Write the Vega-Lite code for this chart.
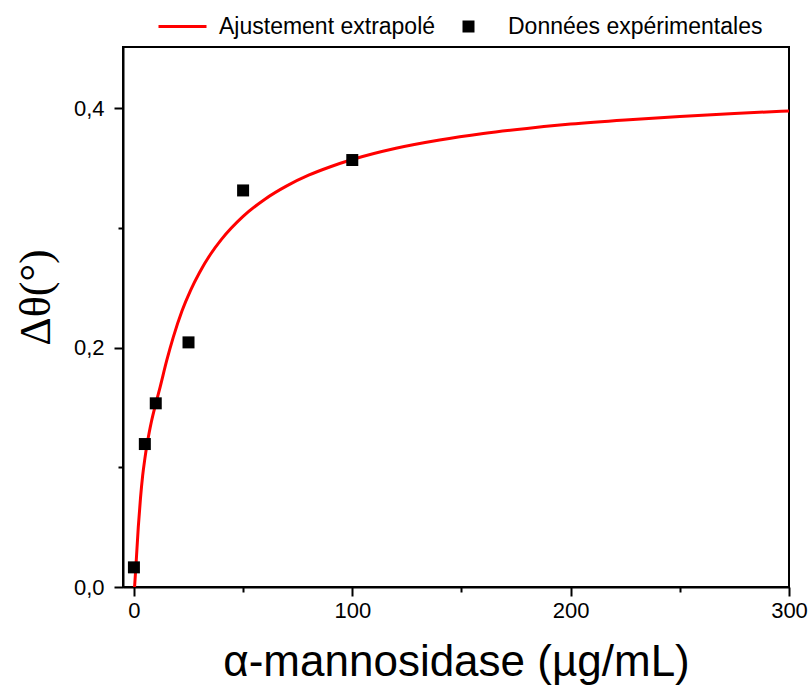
{
  "$schema": "https://vega.github.io/schema/vega-lite/v6.json",
  "width": 666,
  "height": 540,
  "autosize": "none",
  "padding": {"left": 123, "top": 47, "right": 20, "bottom": 99},
  "background": "white",
  "config": {
    "view": {"stroke": "black", "strokeWidth": 2},
    "font": "Liberation Sans",
    "legend": {"labelLimit": 600, "labelFontSize": 23, "padding": 0, "gridAlign": "none"}
  },
  "datasets": {
    "fit": [
      {"x": 0.3, "y": 0},
      {"x": 1, "y": 0.02},
      {"x": 2, "y": 0.05},
      {"x": 3, "y": 0.074},
      {"x": 4, "y": 0.093},
      {"x": 5, "y": 0.107},
      {"x": 6, "y": 0.119},
      {"x": 7, "y": 0.129},
      {"x": 8, "y": 0.138},
      {"x": 10, "y": 0.153},
      {"x": 12, "y": 0.167},
      {"x": 15, "y": 0.189},
      {"x": 18, "y": 0.2085},
      {"x": 22, "y": 0.2305},
      {"x": 26, "y": 0.248},
      {"x": 30, "y": 0.2625},
      {"x": 35, "y": 0.2777},
      {"x": 40, "y": 0.2901},
      {"x": 50, "y": 0.3095},
      {"x": 60, "y": 0.3239},
      {"x": 70, "y": 0.335},
      {"x": 80, "y": 0.3439},
      {"x": 90, "y": 0.351},
      {"x": 100, "y": 0.357},
      {"x": 120, "y": 0.3664},
      {"x": 140, "y": 0.3733},
      {"x": 160, "y": 0.3787},
      {"x": 180, "y": 0.383},
      {"x": 200, "y": 0.3866},
      {"x": 225, "y": 0.3901},
      {"x": 250, "y": 0.393},
      {"x": 275, "y": 0.3955},
      {"x": 300, "y": 0.3976}
    ],
    "exp": [
      {"x": 0, "y": 0.0164},
      {"x": 5, "y": 0.1194},
      {"x": 10, "y": 0.1534},
      {"x": 25, "y": 0.2043},
      {"x": 50, "y": 0.3312},
      {"x": 100, "y": 0.3566}
    ]
  },
  "encoding": {
    "x": {
      "field": "x",
      "type": "quantitative",
      "scale": {"domain": [-5, 300], "nice": false, "zero": false},
      "axis": {
        "title": "α-mannosidase (µg/mL)",
        "values": [0, 50, 100, 150, 200, 250, 300],
        "labelExpr": "datum.value % 100 === 0 ? datum.label : ''",
        "tickSize": {"condition": {"test": "datum.value % 100 === 0", "value": 9}, "value": 5},
        "grid": false,
        "domainColor": "black",
        "domainWidth": 2,
        "tickColor": "black",
        "tickWidth": 2,
        "labelFontSize": 22,
        "labelColor": "black",
        "labelPadding": 4,
        "labelFlush": false,
        "labelOverlap": false,
        "titleFontSize": 44,
        "titleFontWeight": "normal",
        "titleColor": "black",
        "titlePadding": 19
      }
    },
    "y": {
      "field": "y",
      "type": "quantitative",
      "scale": {"domain": [0, 0.451], "nice": false, "zero": false},
      "axis": {
        "title": "Δθ(°)",
        "values": [0, 0.1, 0.2, 0.3, 0.4],
        "labelExpr": "round(datum.value * 10) % 2 === 0 ? replace(format(datum.value, '.1f'), '.', ',') : ''",
        "tickSize": {"condition": {"test": "round(datum.value * 10) % 2 === 0", "value": 9}, "value": 5},
        "grid": false,
        "domainColor": "black",
        "domainWidth": 2,
        "tickColor": "black",
        "tickWidth": 2,
        "labelFontSize": 22,
        "labelColor": "black",
        "labelPadding": 10,
        "labelFlush": false,
        "labelOverlap": false,
        "titleFont": "Liberation Serif",
        "titleFontSize": 44,
        "titleFontWeight": "normal",
        "titleColor": "black",
        "titlePadding": 15,
        "titleY": 250
      }
    }
  },
  "layer": [
    {
      "data": {"name": "fit"},
      "mark": {"type": "line", "strokeWidth": 3, "clip": true, "interpolate": "monotone"},
      "encoding": {
        "color": {
          "datum": "Ajustement extrapolé",
          "scale": {"domain": ["Ajustement extrapolé", "Données expérimentales"], "range": ["#ff0000", "#000000"]},
          "legend": {
            "orient": "none",
            "legendX": 66,
            "legendY": -32,
            "direction": "horizontal",
            "title": null,
            "labelFontSize": 23,
            "labelColor": "black",
            "labelFont": "Liberation Sans",
            "labelLimit": 600,
            "symbolSize": 144,
            "symbolStrokeWidth": 3,
            "columnPadding": 26,
            "labelOffset": 7,
            "padding": 0,
            "gridAlign": "none",
            "encode": {
              "symbols": {
                "update": {
                  "shape": {"signal": "datum.value === 'Ajustement extrapolé' ? 'M-7,0H1' : 'M-4.5,-1H-2.5V1H-4.5Z'"},
                  "size": {"value": 144},
                  "fill": {"signal": "datum.value === 'Ajustement extrapolé' ? 'transparent' : 'black'"},
                  "stroke": {"signal": "datum.value === 'Ajustement extrapolé' ? '#ff0000' : 'black'"},
                  "strokeWidth": {"signal": "datum.value === 'Ajustement extrapolé' ? 3 : 0"},
                  "opacity": {"value": 1}
                }
              }
            }
          }
        }
      }
    },
    {
      "data": {"name": "exp"},
      "mark": {"type": "square", "size": 144, "filled": true, "opacity": 1},
      "encoding": {
        "color": {"datum": "Données expérimentales"}
      }
    }
  ]
}
